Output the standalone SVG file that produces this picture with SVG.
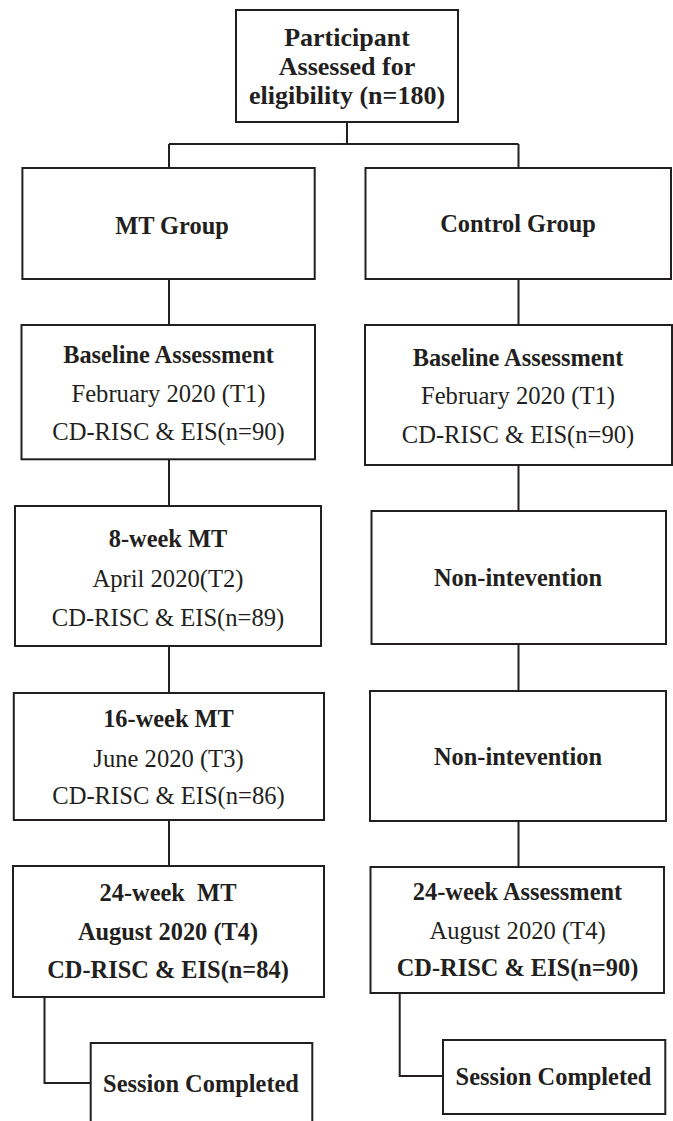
<svg xmlns="http://www.w3.org/2000/svg" width="673" height="1121" viewBox="0 0 673 1121">
<style>
.box{fill:#fff;stroke:#231f20;stroke-width:2}
.ln{fill:none;stroke:#231f20;stroke-width:2}
text{font-family:"Liberation Serif","Times New Roman",serif;fill:#231f20;text-anchor:middle}
.b{font-weight:bold;font-size:24.4px}
.r{font-size:24.6px}
.t{font-weight:bold;font-size:26px}
</style>
<rect width="673" height="1121" fill="#fff"/>
<g id="connectors">
<path class="ln" d="M347 122V144M169 144H518.5M169 144V168M518.5 144V168"/>
<path class="ln" d="M169 279V325M169 459V506M169 646V693M169 820V866"/>
<path class="ln" d="M518.5 279V325M518.5 465V511M518.5 644V691M518.5 821V867"/>
<path class="ln" d="M44.5 997V1083H90.7"/>
<path class="ln" d="M399.7 993V1076H443"/>
</g>
<g id="n_top">
<rect class="box" x="236" y="10" width="222" height="112"/>
<text class="t" x="347" y="46">Participant</text>
<text class="t" x="347" y="75">Assessed for</text>
<text class="t" x="347" y="104">eligibility (n=180)</text>
</g>
<g id="n_mt">
<rect class="box" x="22.4" y="168" width="292.3" height="111"/>
<text class="b" x="172" y="234">MT Group</text>
</g>
<g id="n_ctrl">
<rect class="box" x="365.5" y="168" width="305.5" height="111"/>
<text class="b" x="518" y="232">Control Group</text>
</g>
<g id="n_mt_base">
<rect class="box" x="21.5" y="325" width="293.5" height="134.3"/>
<text class="b" x="168.5" y="363">Baseline Assessment</text>
<text class="r" x="168.5" y="401.5">February 2020 (T1)</text>
<text class="r" x="168.5" y="439.5">CD-RISC &amp; EIS(n=90)</text>
</g>
<g id="n_ctrl_base">
<rect class="box" x="365" y="325" width="307" height="140"/>
<text class="b" x="518" y="366">Baseline Assessment</text>
<text class="r" x="518" y="404">February 2020 (T1)</text>
<text class="r" x="518" y="442.5">CD-RISC &amp; EIS(n=90)</text>
</g>
<g id="n_mt_8">
<rect class="box" x="15" y="506" width="306" height="140"/>
<text class="b" x="168" y="547">8-week MT</text>
<text class="r" x="168" y="587">April 2020(T2)</text>
<text class="r" x="168" y="626">CD-RISC &amp; EIS(n=89)</text>
</g>
<g id="n_ctrl_non1">
<rect class="box" x="371.5" y="511" width="294.5" height="133"/>
<text class="b" x="518" y="586">Non-intevention</text>
</g>
<g id="n_mt_16">
<rect class="box" x="13.8" y="693" width="310.2" height="127"/>
<text class="b" x="168.5" y="727">16-week MT</text>
<text class="r" x="168.5" y="766.5">June 2020 (T3)</text>
<text class="r" x="168.5" y="804">CD-RISC &amp; EIS(n=86)</text>
</g>
<g id="n_ctrl_non2">
<rect class="box" x="370" y="691" width="296" height="130"/>
<text class="b" x="518" y="765">Non-intevention</text>
</g>
<g id="n_mt_24">
<rect class="box" x="13" y="866" width="311" height="131"/>
<text class="b" x="168" y="901" xml:space="preserve">24-week  MT</text>
<text class="b" x="168" y="940">August 2020 (T4)</text>
<text class="b" x="168" y="978">CD-RISC &amp; EIS(n=84)</text>
</g>
<g id="n_ctrl_24">
<rect class="box" x="370.5" y="867" width="293.5" height="126"/>
<text class="b" x="517.5" y="899.5">24-week Assessment</text>
<text class="r" x="517.5" y="938.5">August 2020 (T4)</text>
<text class="b" x="517.5" y="975.5">CD-RISC &amp; EIS(n=90)</text>
</g>
<g id="n_mt_done">
<rect class="box" x="90.7" y="1043" width="221.6" height="100"/>
<text class="b" x="201" y="1091.5">Session Completed</text>
</g>
<g id="n_ctrl_done">
<rect class="box" x="443" y="1040" width="222.3" height="74"/>
<text class="b" x="553.5" y="1085">Session Completed</text>
</g>
</svg>
